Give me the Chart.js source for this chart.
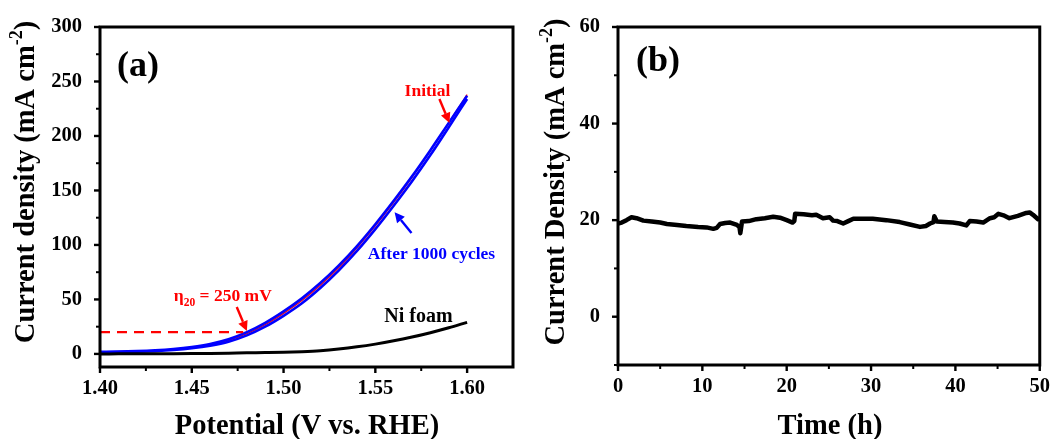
<!DOCTYPE html>
<html>
<head>
<meta charset="utf-8">
<script src="https://cdn.jsdelivr.net/npm/chart.js@4/dist/chart.umd.min.js"></script>
<style>
  html, body { margin: 0; padding: 0; background: #fff; }
  #wrapA { position: absolute; left: 0; top: 0; width: 530px; height: 439px; }
  #wrapB { position: absolute; left: 530px; top: 0; width: 521px; height: 439px; }
</style>
</head>
<body>
<div id="wrapA"><canvas id="chartA"></canvas></div>
<div id="wrapB"><canvas id="chartB"></canvas></div>
<script>
// ---------- Panel (a) data ----------
const potential   = [1.40,1.41,1.42,1.43,1.44,1.45,1.46,1.47,1.48,1.49,1.50,1.51,1.52,1.53,1.54,1.55,1.56,1.57,1.58,1.59,1.60];
const initialJ    = [1.8, 2.0, 2.4, 3.0, 4.1, 5.8, 8.4, 12.4, 18.6, 26.8, 37.2, 49, 63, 79, 97.5, 117.5, 139, 162, 186.5, 212, 238];
const cycledUpJ   = [2.0, 2.2, 2.6, 3.3, 4.5, 6.4, 9.2, 13.5, 20, 28.5, 39, 51, 65, 81, 99, 119, 140.5, 163, 187, 212, 237];
const cycledDownJ = [1.5, 1.7, 2.0, 2.6, 3.6, 5.2, 7.6, 11.2, 17, 25, 35, 46.5, 60.5, 76.5, 94.5, 114.5, 136, 158.5, 182.5, 208, 234];
const niFoamJ     = [0.0, 0.05, 0.1, 0.15, 0.2, 0.3, 0.45, 0.7, 1.0, 1.2, 1.5, 2.1, 3.0, 4.5, 6.5, 9.0, 12, 15.5, 19.5, 24, 29];
const eta20Line   = { x: [1.40, 1.478], y: [20, 20] };

const xTicksA = [1.40, 1.45, 1.50, 1.55, 1.60];
const xTickLabelsA = ['1.40', '1.45', '1.50', '1.55', '1.60'];
const xMinorA = [1.425, 1.475, 1.525, 1.575];
const yTicksA = [0, 50, 100, 150, 200, 250, 300];
const yTickLabelsA = ['0', '50', '100', '150', '200', '250', '300'];
const yMinorA = [25, 75, 125, 175, 225, 275];

// ---------- Panel (b) data ----------
const timeH = [0, 0.44, 1.0, 1.6, 2.2, 3.0, 4.0, 5.0, 5.8, 7.0, 8.1, 9.5, 10.5, 11.3, 11.7, 12.1, 12.7, 13.3, 14.1, 14.4, 14.5, 14.7, 15.5, 16.4, 17.4, 18.4, 19.2, 20.0, 20.7, 20.9, 21.0, 22.0, 23.0, 23.5, 24.3, 25.1, 25.5, 26.0, 26.7, 27.3, 27.9, 29.0, 30.2, 31.8, 33.4, 34.6, 35.8, 36.5, 37.0, 37.4, 37.5, 37.8, 38.7, 39.7, 40.5, 41.3, 41.7, 42.5, 43.3, 44.1, 44.6, 45.1, 45.7, 46.4, 47.4, 48.4, 48.8, 49.2, 49.8, 50.0];
const stabilityJ = [19.3, 19.5, 20.0, 20.6, 20.4, 19.9, 19.7, 19.5, 19.2, 19.0, 18.8, 18.6, 18.5, 18.2, 18.4, 19.2, 19.4, 19.5, 19.0, 18.6, 17.3, 19.7, 19.8, 20.2, 20.4, 20.7, 20.5, 20.0, 19.5, 19.8, 21.3, 21.2, 21.0, 21.1, 20.4, 20.6, 19.9, 19.8, 19.3, 19.8, 20.3, 20.3, 20.3, 20.0, 19.6, 19.1, 18.6, 18.8, 19.3, 19.6, 20.8, 19.7, 19.6, 19.5, 19.3, 18.9, 19.8, 19.7, 19.5, 20.4, 20.6, 21.3, 21.0, 20.4, 20.9, 21.5, 21.6, 21.1, 20.2, 20.3];

const xTicksB = [0, 10, 20, 30, 40, 50];
const xTickLabelsB = ['0', '10', '20', '30', '40', '50'];
const xMinorB = [5, 15, 25, 35, 45];
const yTicksB = [0, 20, 40, 60];
const yTickLabelsB = ['0', '20', '40', '60'];
const yMinorB = [-10, 10, 30, 50];

// ---------- helpers ----------
const SERIF = '"Liberation Serif", "Times New Roman", serif';
const TICKFONT = { family: SERIF, size: 20.5, weight: 'bold' };

function pts(xs, ys) { return xs.map((x, i) => ({ x: x, y: ys[i] })); }

function labelFor(values, labels) {
  return function (value) {
    const i = values.findIndex(v => Math.abs(v - value) < 1e-9);
    return i >= 0 ? labels[i] : '';
  };
}

function arrow(ctx, x1, y1, x2, y2, color) {
  const ang = Math.atan2(y2 - y1, x2 - x1);
  const head = 10, hw = 5;
  const bx = x2 - head * Math.cos(ang), by = y2 - head * Math.sin(ang);
  ctx.save();
  ctx.strokeStyle = color; ctx.fillStyle = color; ctx.lineWidth = 2.4;
  ctx.beginPath(); ctx.moveTo(x1, y1); ctx.lineTo(bx, by); ctx.stroke();
  ctx.beginPath();
  ctx.moveTo(x2, y2);
  ctx.lineTo(bx + hw * Math.sin(ang), by - hw * Math.cos(ang));
  ctx.lineTo(bx - hw * Math.sin(ang), by + hw * Math.cos(ang));
  ctx.closePath(); ctx.fill();
  ctx.restore();
}

function makeFramePlugin(cfg) {
  return {
    id: 'frame_' + cfg.name,
    afterDraw(chart) {
      const ctx = chart.ctx;
      const a = chart.chartArea;
      const xs = chart.scales.x, ys = chart.scales.y;
      ctx.save();
      ctx.strokeStyle = '#000';
      // major ticks
      ctx.lineWidth = 2.4;
      cfg.xMajor.forEach(v => {
        const px = xs.getPixelForValue(v);
        ctx.beginPath(); ctx.moveTo(px, a.bottom); ctx.lineTo(px, a.bottom + 6); ctx.stroke();
      });
      cfg.yMajor.forEach(v => {
        const py = ys.getPixelForValue(v);
        ctx.beginPath(); ctx.moveTo(a.left, py); ctx.lineTo(a.left - 6, py); ctx.stroke();
      });
      // minor ticks
      ctx.lineWidth = 2;
      cfg.xMinor.forEach(v => {
        const px = xs.getPixelForValue(v);
        ctx.beginPath(); ctx.moveTo(px, a.bottom); ctx.lineTo(px, a.bottom + 4); ctx.stroke();
      });
      cfg.yMinor.forEach(v => {
        const py = ys.getPixelForValue(v);
        ctx.beginPath(); ctx.moveTo(a.left, py); ctx.lineTo(a.left - 4, py); ctx.stroke();
      });
      // frame
      ctx.lineWidth = 3;
      ctx.strokeRect(a.left, a.top, a.right - a.left, a.bottom - a.top);

      // x title
      ctx.fillStyle = '#000';
      ctx.font = 'bold 28.5px ' + SERIF;
      ctx.textAlign = 'center'; ctx.textBaseline = 'middle';
      ctx.fillText(cfg.xTitle, cfg.xTitleX, 427);

      // y title with superscript
      ctx.save();
      ctx.translate(cfg.yTitleX, cfg.yTitleY);
      ctx.rotate(-Math.PI / 2);
      const main = cfg.yTitle, sup = '-2', tail = ')';
      const fMain = 'bold 28.5px ' + SERIF, fSup = 'bold 18px ' + SERIF;
      ctx.font = fMain; const wMain = ctx.measureText(main).width; const wTail = ctx.measureText(tail).width;
      ctx.font = fSup; const wSup = ctx.measureText(sup).width;
      const total = wMain + wSup + wTail;
      let x0 = -total / 2;
      ctx.textAlign = 'left'; ctx.textBaseline = 'middle';
      ctx.font = fMain; ctx.fillText(main, x0, 0); x0 += wMain;
      ctx.font = fSup; ctx.fillText(sup, x0, -10); x0 += wSup;
      ctx.font = fMain; ctx.fillText(tail, x0, 0);
      ctx.restore();

      // panel label
      ctx.font = 'bold 36px ' + SERIF;
      ctx.textAlign = 'center'; ctx.textBaseline = 'middle';
      ctx.fillText(cfg.panel, xs.getPixelForValue(cfg.panelPos[0]), ys.getPixelForValue(cfg.panelPos[1]));

      if (cfg.extra) cfg.extra(ctx, xs, ys);
      ctx.restore();
    }
  };
}

function baseScales(xmin, xmax, xT, xL, ymin, ymax, yT, yL, yWidth) {
  return {
    x: {
      type: 'linear', min: xmin, max: xmax,
      afterBuildTicks: s => { s.ticks = xT.map(v => ({ value: v })); },
      afterFit: s => { s.height = 72; },
      grid: { display: false },
      border: { display: false },
      ticks: { color: '#000', font: TICKFONT, padding: 1, maxRotation: 0, autoSkip: false, callback: labelFor(xT, xL) }
    },
    y: {
      type: 'linear', min: ymin, max: ymax,
      afterBuildTicks: s => { s.ticks = yT.map(v => ({ value: v })); },
      afterFit: s => { s.width = yWidth; },
      grid: { display: false },
      border: { display: false },
      ticks: { color: '#000', font: TICKFONT, padding: 10, autoSkip: false, callback: labelFor(yT, yL) }
    }
  };
}

Chart.defaults.animation = false;
Chart.defaults.responsive = true;
Chart.defaults.maintainAspectRatio = false;

// ---------- Chart (a) ----------
new Chart(document.getElementById('chartA'), {
  type: 'line',
  data: {
    datasets: [
      { label: 'eta', data: pts(eta20Line.x, eta20Line.y), borderColor: '#ff0000', borderWidth: 2.2, borderDash: [10, 7], pointRadius: 0 },
      { label: 'Ni foam', data: pts(potential, niFoamJ), borderColor: '#000000', borderWidth: 3, pointRadius: 0, cubicInterpolationMode: 'monotone' },
      { label: 'After 1000 cycles (forward)', data: pts(potential, cycledUpJ), borderColor: '#0000ff', borderWidth: 2.6, pointRadius: 0, cubicInterpolationMode: 'monotone' },
      { label: 'After 1000 cycles (reverse)', data: pts(potential, cycledDownJ), borderColor: '#0000ff', borderWidth: 2.6, pointRadius: 0, cubicInterpolationMode: 'monotone' },
      { label: 'Initial', data: pts(potential, initialJ), borderColor: '#ff0000', borderWidth: 1.4, pointRadius: 0, cubicInterpolationMode: 'monotone' }
    ]
  },
  options: {
    layout: { padding: { left: 0, top: 27, right: 17, bottom: 0 } },
    plugins: { legend: { display: false }, tooltip: { enabled: false } },
    scales: baseScales(1.40, 1.625, xTicksA, xTickLabelsA, -12, 300, yTicksA, yTickLabelsA, 100)
  },
  plugins: [makeFramePlugin({
    name: 'a', xMajor: xTicksA, yMajor: yTicksA, xMinor: xMinorA, yMinor: yMinorA,
    xTitle: 'Potential (V vs. RHE)', xTitleX: 307,
    yTitle: 'Current density (mA cm', yTitleX: 27, yTitleY: 182,
    panel: '(a)', panelPos: [1.4207, 264],
    extra: (ctx, xs, ys) => {
      const X = v => xs.getPixelForValue(v), Y = v => ys.getPixelForValue(v);
      ctx.textAlign = 'center'; ctx.textBaseline = 'middle';
      // Initial
      ctx.fillStyle = '#ff0000'; ctx.font = 'bold 17.5px ' + SERIF;
      ctx.fillText('Initial', X(1.5784), Y(240.4));
      arrow(ctx, X(1.5849), Y(234), X(1.5904), Y(212), '#ff0000');
      // After 1000 cycles
      ctx.fillStyle = '#0000ff'; ctx.font = 'bold 17.5px ' + SERIF;
      ctx.fillText('After 1000 cycles', X(1.5806), Y(91.7));
      arrow(ctx, X(1.5697), Y(111), X(1.5605), Y(130), '#0000ff');
      // eta20
      ctx.fillStyle = '#ff0000';
      const cx = X(1.4669), cy = Y(52.3);
      const f1 = 'bold 17.5px ' + SERIF, f2 = 'bold 11.5px ' + SERIF;
      ctx.font = f1; const w1 = ctx.measureText('η').width, w3 = ctx.measureText(' = 250 mV').width;
      ctx.font = f2; const w2 = ctx.measureText('20').width;
      let x0 = cx - (w1 + w2 + w3) / 2;
      ctx.textAlign = 'left';
      ctx.font = f1; ctx.fillText('η', x0, cy); x0 += w1;
      ctx.font = f2; ctx.fillText('20', x0, cy + 6); x0 += w2;
      ctx.font = f1; ctx.fillText(' = 250 mV', x0, cy);
      arrow(ctx, X(1.4745), Y(43), X(1.480), Y(21), '#ff0000');
      // Ni foam
      ctx.textAlign = 'center';
      ctx.fillStyle = '#000'; ctx.font = 'bold 20px ' + SERIF;
      ctx.fillText('Ni foam', X(1.5735), Y(34));
    }
  })]
});

// ---------- Chart (b) ----------
new Chart(document.getElementById('chartB'), {
  type: 'line',
  data: {
    datasets: [
      { label: 'Stability', data: pts(timeH, stabilityJ), borderColor: '#000000', borderWidth: 4.5, pointRadius: 0, tension: 0, borderJoinStyle: 'round' }
    ]
  },
  options: {
    layout: { padding: { left: 0, top: 27, right: 11, bottom: 2 } },
    plugins: { legend: { display: false }, tooltip: { enabled: false } },
    scales: baseScales(0, 50, xTicksB, xTickLabelsB, -10, 60, yTicksB, yTickLabelsB, 88)
  },
  plugins: [makeFramePlugin({
    name: 'b', xMajor: xTicksB, yMajor: yTicksB, xMinor: xMinorB, yMinor: yMinorB,
    xTitle: 'Time (h)', xTitleX: 300,
    yTitle: 'Current Density (mA cm', yTitleX: 27, yTitleY: 182,
    panel: '(b)', panelPos: [4.74, 52.8]
  })]
});
</script>
</body>
</html>
